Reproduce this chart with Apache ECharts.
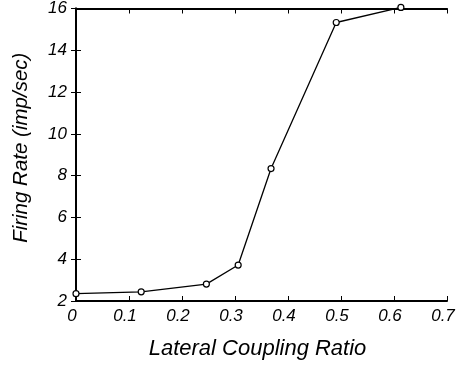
<!DOCTYPE html>
<html>
<head>
<meta charset="utf-8">
<script src="https://cdn.jsdelivr.net/npm/echarts@6/dist/echarts.min.js"></script>
<style>html,body{margin:0;padding:0;background:#fff;}#c{width:459px;height:368px;}</style>
</head>
<body>
<div id="c"></div>
<script>
const xValues = [0.0, 0.123, 0.246, 0.306, 0.368, 0.491, 0.613];
const yValues = [2.35, 2.44, 2.81, 3.72, 8.34, 15.33, 16.05];
const xTicks = [0, 0.1, 0.2, 0.3, 0.4, 0.5, 0.6, 0.7];
const yTicks = [2, 4, 6, 8, 10, 12, 14, 16];

const font = 'Liberation Sans, Arial, sans-serif';
const data = xValues.map((x, i) => [x, yValues[i]]);
const chart = echarts.init(document.getElementById('c'));
const axisCommon = {
  axisLine: { show: true, lineStyle: { color: '#000', width: 2 } },
  axisTick: { show: true, inside: true, length: 5, lineStyle: { color: '#000', width: 1 } },
  splitLine: { show: false }
};
chart.setOption({
  animation: false,
  backgroundColor: '#fff',
  grid: { left: 76, right: 12, top: 8, bottom: 67 },
  xAxis: [
    Object.assign({
      type: 'value', min: 0, max: 0.7, interval: 0.1, position: 'bottom',
      name: 'Lateral Coupling Ratio', nameLocation: 'middle', nameGap: 37,
      nameTextStyle: { fontFamily: font, fontStyle: 'italic', fontSize: 22, color: '#000', padding: [0, 8, 0, 0] },
      axisLabel: {
        fontFamily: font, fontStyle: 'italic', fontSize: 17, color: '#000', margin: 7,
        padding: [0, 8, 0, 0],
        formatter: v => { const t = xTicks.find(k => Math.abs(k - v) < 1e-9); return t === undefined ? '' : String(t); }
      }
    }, axisCommon),
    Object.assign({
      type: 'value', min: 0, max: 0.7, interval: 0.1, position: 'top',
      axisLabel: { show: false }
    }, axisCommon)
  ],
  yAxis: [
    Object.assign({
      type: 'value', min: 2, max: 16, interval: 2, position: 'left',
      name: 'Firing Rate (imp/sec)', nameLocation: 'middle', nameGap: 45,
      nameTextStyle: { fontFamily: font, fontStyle: 'italic', fontSize: 20.5, color: '#000', padding: [0, 0, 0, 14] },
      axisLabel: {
        fontFamily: font, fontStyle: 'italic', fontSize: 17, color: '#000', margin: 9,
        formatter: v => { const t = yTicks.find(k => Math.abs(k - v) < 1e-9); return t === undefined ? '' : String(t); }
      }
    }, axisCommon),
    Object.assign({
      type: 'value', min: 2, max: 16, interval: 2, position: 'right',
      axisLabel: { show: false }
    }, axisCommon)
  ],
  series: [{
    type: 'line',
    data: data,
    clip: false,
    symbol: 'circle',
    symbolSize: 6,
    itemStyle: { color: '#fff', borderColor: '#000', borderWidth: 1.2 },
    lineStyle: { color: '#000', width: 1.3 },
    z: 5
  }]
});
</script>
</body>
</html>
